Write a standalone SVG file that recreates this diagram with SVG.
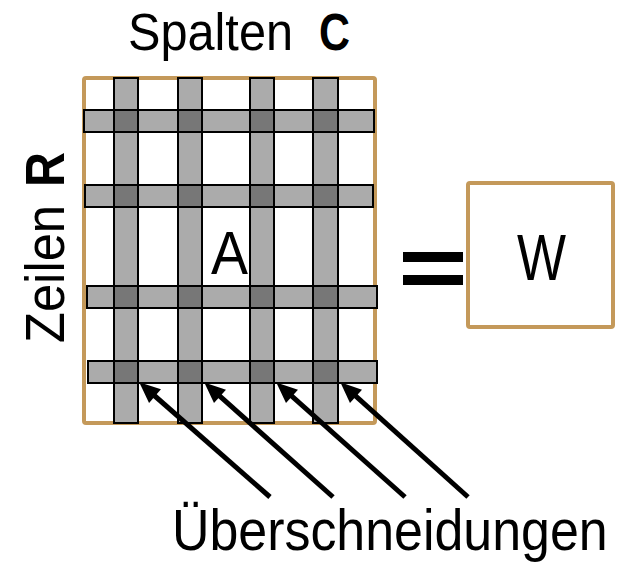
<svg xmlns="http://www.w3.org/2000/svg" width="623" height="563" viewBox="0 0 623 563">
<style>
.t{font-family:"Liberation Sans",Arial,sans-serif;fill:#000}
.b{font-weight:bold}
.box{fill:#fff;stroke:#C4995A;stroke-width:4}
.bar{fill:#ABABAB}
.x{fill:#777}
.o{fill:none;stroke:#000;stroke-width:2}
.arr{stroke:#000;stroke-width:5;fill:none}
</style>
<defs>
<marker id="ah" markerUnits="userSpaceOnUse" markerWidth="24" markerHeight="20" refX="4" refY="9" orient="auto" overflow="visible">
<path d="M0,0 L21,9 L0,18 z" fill="#000"/>
</marker>
</defs>
<g id="title-cols"><text class="t" x="128" y="50" font-size="51" textLength="165" lengthAdjust="spacingAndGlyphs">Spalten</text><text class="t b" x="319" y="50" font-size="51" textLength="31" lengthAdjust="spacingAndGlyphs">C</text></g>
<g id="title-rows" transform="translate(64,343) rotate(-90)"><text class="t" x="0" y="0" font-size="55" textLength="138" lengthAdjust="spacingAndGlyphs">Zeilen</text><text class="t b" x="156" y="0" font-size="55" textLength="35" lengthAdjust="spacingAndGlyphs">R</text></g>
<g id="A">
<rect class="box" x="84" y="78" width="291" height="345" rx="2"/>
<rect class="bar" x="114" y="78" width="24" height="345"/>
<rect class="bar" x="178" y="78" width="24" height="345"/>
<rect class="bar" x="250" y="78" width="24" height="345"/>
<rect class="bar" x="313" y="78" width="25" height="345"/>
<rect class="bar" x="84" y="110" width="290" height="22"/>
<rect class="bar" x="85" y="185" width="288" height="22"/>
<rect class="bar" x="87" y="286" width="290" height="22"/>
<rect class="bar" x="88" y="361" width="289" height="22"/>
<g class="x">
<rect x="114" y="110" width="24" height="22"/><rect x="178" y="110" width="24" height="22"/><rect x="250" y="110" width="24" height="22"/><rect x="313" y="110" width="25" height="22"/>
<rect x="114" y="185" width="24" height="22"/><rect x="178" y="185" width="24" height="22"/><rect x="250" y="185" width="24" height="22"/><rect x="313" y="185" width="25" height="22"/>
<rect x="114" y="286" width="24" height="22"/><rect x="178" y="286" width="24" height="22"/><rect x="250" y="286" width="24" height="22"/><rect x="313" y="286" width="25" height="22"/>
<rect x="114" y="361" width="24" height="22"/><rect x="178" y="361" width="24" height="22"/><rect x="250" y="361" width="24" height="22"/><rect x="313" y="361" width="25" height="22"/>
</g>
<rect class="o" x="114" y="78" width="24" height="345"/>
<rect class="o" x="178" y="78" width="24" height="345"/>
<rect class="o" x="250" y="78" width="24" height="345"/>
<rect class="o" x="313" y="78" width="25" height="345"/>
<rect class="o" x="84" y="110" width="290" height="22"/>
<rect class="o" x="85" y="185" width="288" height="22"/>
<rect class="o" x="87" y="286" width="290" height="22"/>
<rect class="o" x="88" y="361" width="289" height="22"/>
<text class="t" x="211" y="274" font-size="61" textLength="37" lengthAdjust="spacingAndGlyphs">A</text>
</g>
<g id="equals"><rect x="403" y="252" width="60" height="10" fill="#000"/><rect x="403" y="275" width="60" height="10" fill="#000"/></g>
<g id="W"><rect class="box" x="468" y="183" width="145" height="144" rx="2"/><text class="t" x="517" y="280" font-size="64" textLength="49" lengthAdjust="spacingAndGlyphs">W</text></g>
<g id="connectors">
<line class="arr" x1="270" y1="497" x2="152" y2="393.5" marker-end="url(#ah)"/>
<line class="arr" x1="333" y1="497" x2="217" y2="393.7" marker-end="url(#ah)"/>
<line class="arr" x1="405" y1="497" x2="289" y2="393.7" marker-end="url(#ah)"/>
<line class="arr" x1="468" y1="497" x2="353" y2="393.7" marker-end="url(#ah)"/>
</g>
<g id="label"><text class="t" transform="translate(172,550) scale(0.895,1)" x="0" y="0" font-size="58">Überschneidungen</text></g>
</svg>
